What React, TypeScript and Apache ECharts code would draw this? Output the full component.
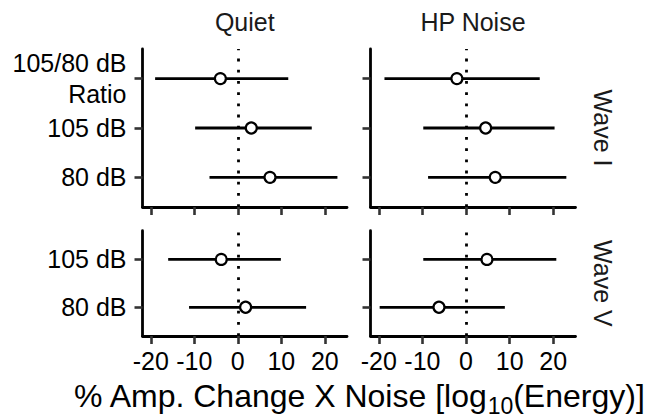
import React, { useEffect, useRef } from "react";
import * as echarts from "echarts";

// ---- data (categories listed bottom to top) ----
const columnTitles = ["Quiet", "HP Noise"];
const rowTitles = ["Wave I", "Wave V"];
const waveICategories = ["80 dB", "105 dB", "105/80 dB\nRatio"];
const waveVCategories = ["80 dB", "105 dB"];
const xTickValues = [-20, -10, 0, 10, 20];

const quietWaveIEst = [7.4, 3.1, -4.0];
const quietWaveILow = [-6.5, -9.8, -19.0];
const quietWaveIHigh = [22.9, 17.0, 11.6];

const hpWaveIEst = [6.7, 4.5, -2.1];
const hpWaveILow = [-8.7, -9.8, -18.7];
const hpWaveIHigh = [23.0, 20.3, 16.9];

const quietWaveVEst = [1.8, -3.8];
const quietWaveVLow = [-11.2, -16.0];
const quietWaveVHigh = [15.7, 9.9];

const hpWaveVEst = [-6.2, 4.8];
const hpWaveVLow = [-19.8, -9.8];
const hpWaveVHigh = [8.9, 20.7];

const xTitle = "% Amp. Change X Noise [log{sub|10}(Energy)]";

const FONT = "'Liberation Sans', Arial, Helvetica, sans-serif";

export default function App() {
  const ref = useRef<HTMLDivElement>(null);

  useEffect(() => {
    if (!ref.current) return;
    const chart = echarts.init(ref.current, undefined, { renderer: "svg" });

    const panels = [
      { col: 0, row: 0, cats: waveICategories, est: quietWaveIEst, low: quietWaveILow, high: quietWaveIHigh },
      { col: 1, row: 0, cats: waveICategories, est: hpWaveIEst, low: hpWaveILow, high: hpWaveIHigh },
      { col: 0, row: 1, cats: waveVCategories, est: quietWaveVEst, low: quietWaveVLow, high: quietWaveVHigh },
      { col: 1, row: 1, cats: waveVCategories, est: hpWaveVEst, low: hpWaveVLow, high: hpWaveVHigh },
    ];

    const colLeft = [142.5, 370.5];
    const colWidth = [204.5, 205];
    const rowTop = [49, 230.7];
    const rowHeight = [158, 105.3];

    const grids: any[] = [];
    const xAxes: any[] = [];
    const yAxes: any[] = [];
    const series: any[] = [];

    panels.forEach((p, i) => {
      grids.push({
        left: colLeft[p.col],
        top: rowTop[p.row],
        width: colWidth[p.col],
        height: rowHeight[p.row],
        containLabel: false,
        outerBoundsMode: "none",
      });
      xAxes.push({
        type: "value",
        gridIndex: i,
        min: -21.9,
        max: 25.1,
        splitLine: { show: false },
        axisLine: { show: true, onZero: false, lineStyle: { color: "#000", width: 2.8 } },
        axisTick: {
          show: true,
          customValues: xTickValues,
          length: 8,
          lineStyle: { color: "#333", width: 2.6 },
        },
        axisLabel: {
          show: p.row === 1,
          customValues: xTickValues,
          fontSize: 25,
          fontFamily: FONT,
          color: "#000",
          margin: 12,
        },
      });
      const n = p.cats.length;
      const ticks = p.cats.map((_, k) => k + 1);
      yAxes.push({
        type: "value",
        gridIndex: i,
        min: 0.4,
        max: n + 0.6,
        splitLine: { show: false },
        axisLine: { show: true, onZero: false, lineStyle: { color: "#000", width: 2.8 } },
        axisTick: {
          show: true,
          customValues: ticks,
          length: 8,
          lineStyle: { color: "#333", width: 2.6 },
        },
        axisLabel: {
          show: p.col === 0,
          customValues: ticks,
          formatter: (v: number) => p.cats[Math.round(v) - 1] ?? "",
          fontSize: 25,
          lineHeight: 31,
          fontFamily: FONT,
          color: "#000",
          margin: 16,
          align: "right",
        },
      });

      series.push({
        type: "custom",
        xAxisIndex: i,
        yAxisIndex: i,
        z: 2,
        silent: true,
        data: p.cats.map((_, k) => [k + 1, p.low[k], p.high[k]]),
        encode: { x: [1, 2], y: 0 },
        renderItem: (params: any, api: any) => {
          const y = api.value(0);
          const a = api.coord([api.value(1), y]);
          const b = api.coord([api.value(2), y]);
          return {
            type: "line",
            shape: { x1: a[0], y1: a[1], x2: b[0], y2: b[1] },
            style: { stroke: "#000", lineWidth: 2.8 },
          };
        },
        markLine: {
          silent: true,
          symbol: ["none", "none"],
          label: { show: false },
          z: 1,
          lineStyle: { color: "#000", width: 2.8, type: [2.8, 8.4], opacity: 1 },
          emphasis: { disabled: true },
          data: [{ xAxis: 0 }],
        },
      });
      series.push({
        type: "scatter",
        xAxisIndex: i,
        yAxisIndex: i,
        z: 3,
        silent: true,
        symbol: "circle",
        symbolSize: 11,
        itemStyle: { color: "#fff", borderColor: "#000", borderWidth: 2.2, opacity: 1 },
        data: p.est.map((e, k) => [e, k + 1]),
      });
    });

    const graphics: any[] = [];
    columnTitles.forEach((t, c) => {
      graphics.push({
        type: "text",
        x: colLeft[c] + colWidth[c] / 2,
        y: 22,
        style: {
          text: t,
          fontSize: 25,
          fontFamily: FONT,
          fill: "#1a1a1a",
          textAlign: "center",
          textVerticalAlign: "middle",
        },
      });
    });
    rowTitles.forEach((t, r) => {
      graphics.push({
        type: "text",
        x: 603,
        y: rowTop[r] + rowHeight[r] / 2,
        rotation: -Math.PI / 2,
        style: {
          text: t,
          fontSize: 25,
          fontFamily: FONT,
          fill: "#1a1a1a",
          textAlign: "center",
          textVerticalAlign: "middle",
        },
      });
    });
    graphics.push({
      type: "text",
      x: 359,
      y: 396,
      style: {
        text: xTitle,
        fontSize: 32,
        lineHeight: 42,
        fontFamily: FONT,
        fill: "#000",
        textAlign: "center",
        textVerticalAlign: "middle",
        rich: {
          sub: { fontSize: 23, lineHeight: 23, verticalAlign: "bottom", fontFamily: FONT, fill: "#000" },
        },
      },
    });

    chart.setOption({
      animation: false,
      backgroundColor: "#fff",
      grid: grids,
      xAxis: xAxes,
      yAxis: yAxes,
      series,
      graphic: graphics,
    });

    return () => chart.dispose();
  }, []);

  return (
    <div
      ref={ref}
      style={{ position: "fixed", left: 0, top: 0, width: 647, height: 418 }}
    />
  );
}
